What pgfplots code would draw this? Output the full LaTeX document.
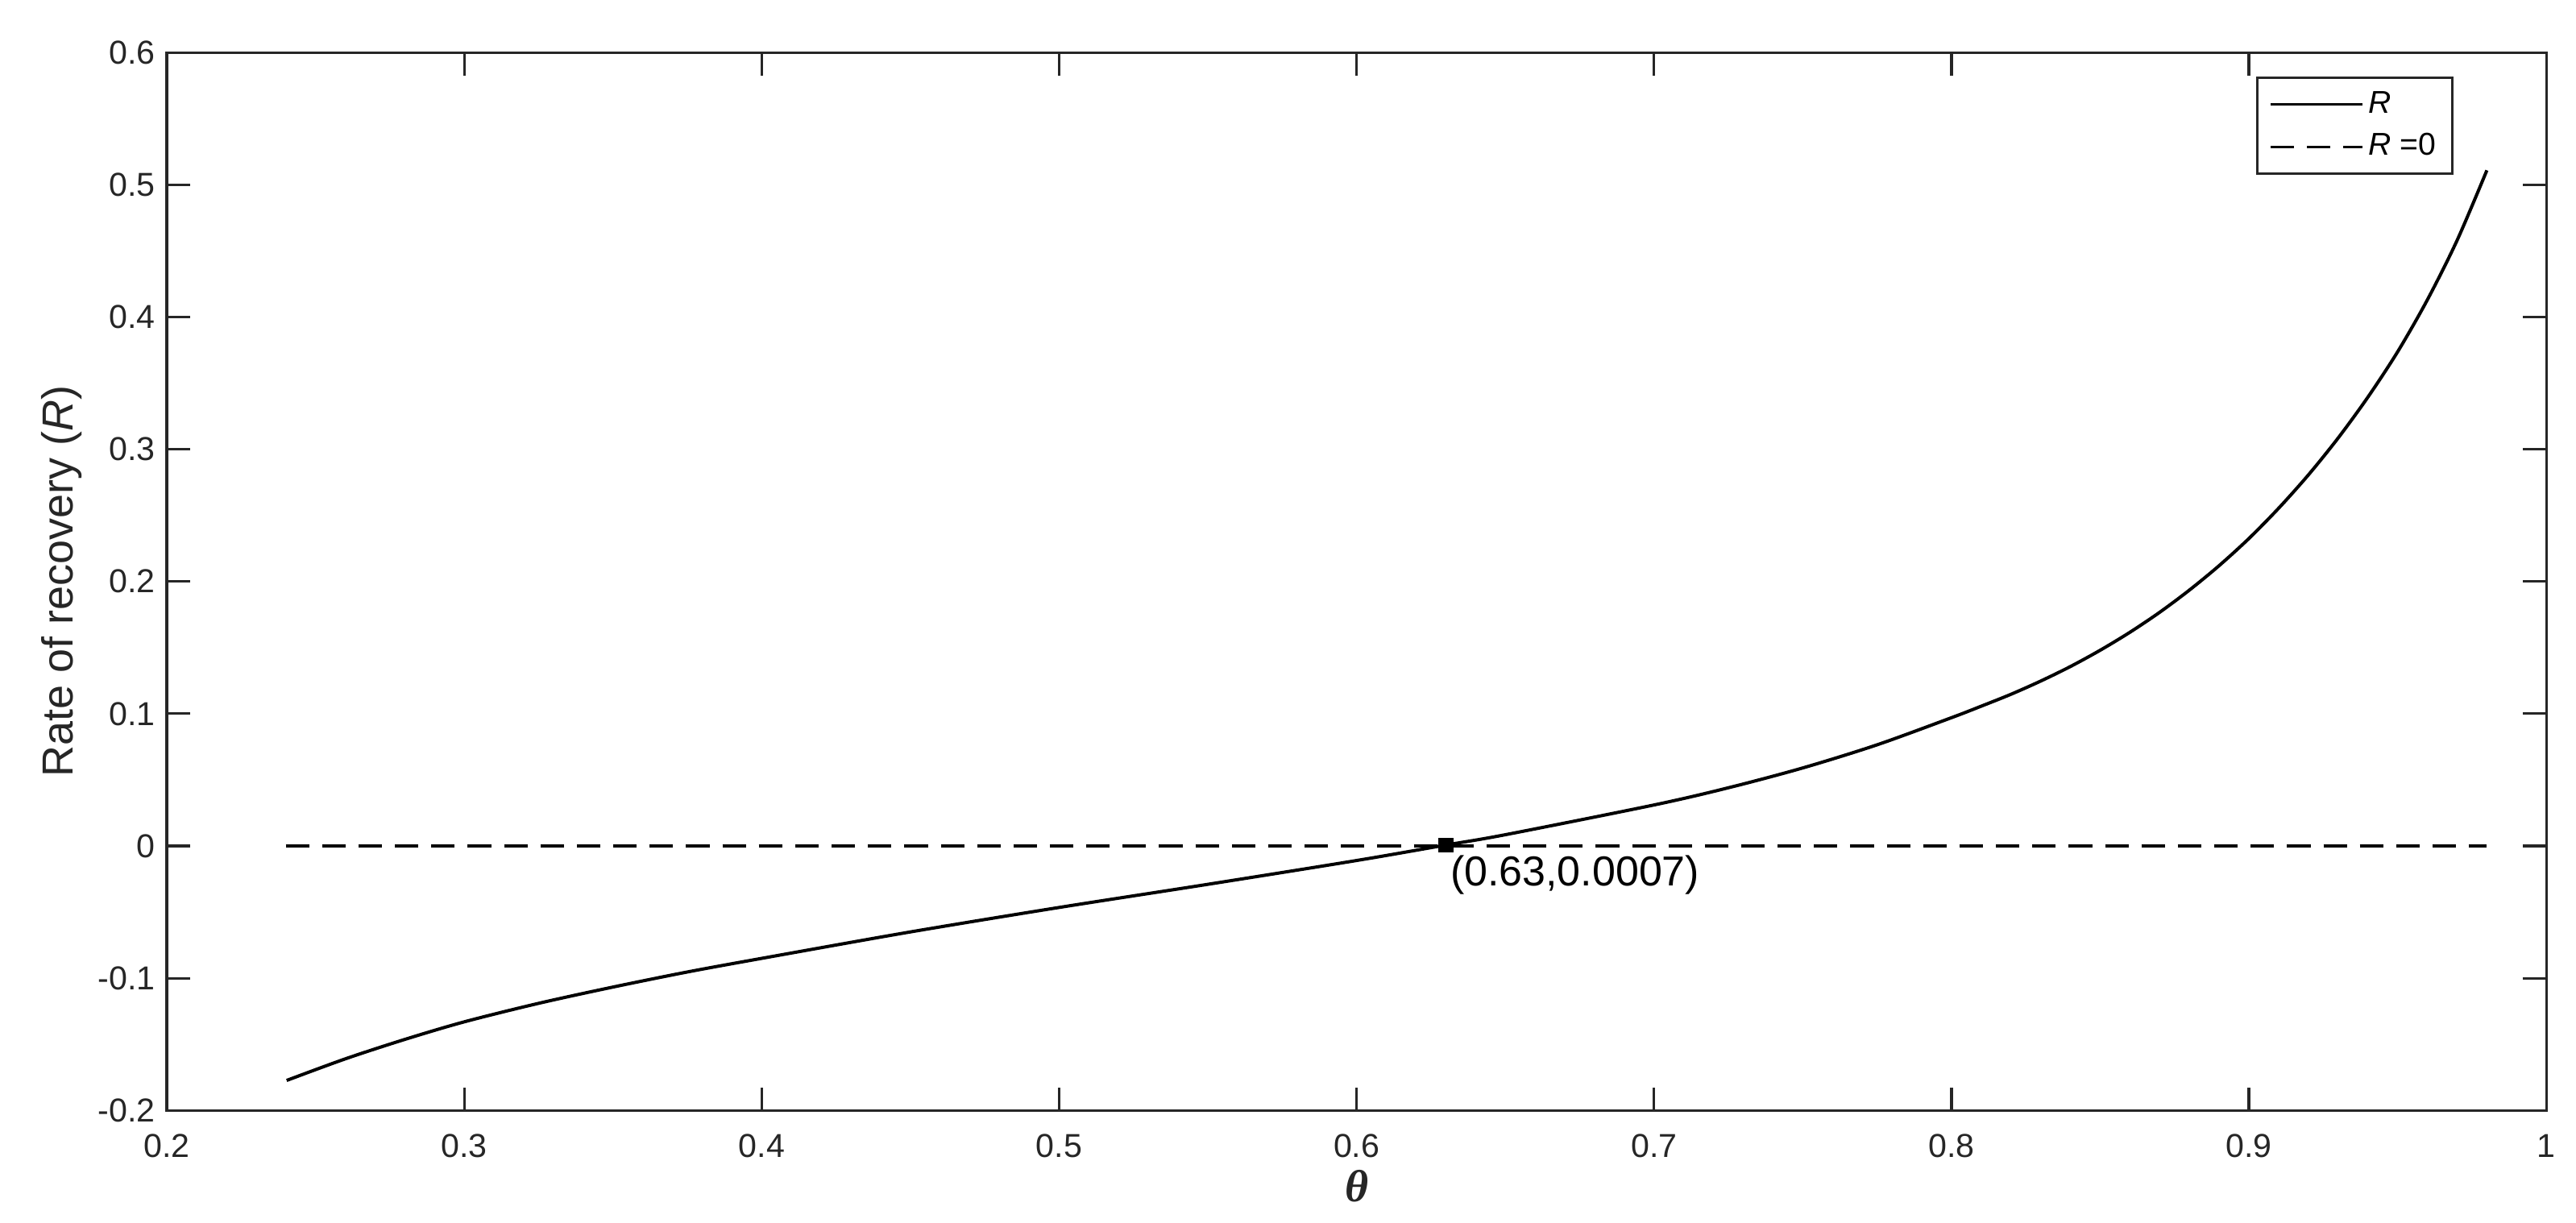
\documentclass[border=0pt]{standalone}
\usepackage{pgfplots}
\pgfplotsset{compat=1.18}
\usepackage{fontspec}
\setmainfont{Liberation Sans}
\newfontfamily\greekserif{Liberation Serif}
\definecolor{axgray}{RGB}{38,38,38}
\begin{document}
\begin{tikzpicture}
\path[use as bounding box] (-51.8pt,-34.8pt) rectangle (748.2pt,344.9pt);
\begin{axis}[
  at={(0,0)}, anchor=south west,
  scale only axis, width=739pt, height=328.6pt,
  xmin=0.2, xmax=1, ymin=-0.2, ymax=0.6,
  xtick={0.2,0.3,0.4,0.5,0.6,0.7,0.8,0.9,1},
  ytick={-0.2,-0.1,0,0.1,0.2,0.3,0.4,0.5,0.6},
  xticklabels={0.2,0.3,0.4,0.5,0.6,0.7,0.8,0.9,1},
  yticklabels={-0.2,-0.1,0,0.1,0.2,0.3,0.4,0.5,0.6},
  axis line style={axgray, line width=0.8pt},
  every tick/.style={axgray, line width=0.8pt},
  major tick length=7.2pt,
  tick align=inside,
  ticklabel style={font=\fontsize{10.3}{12}\selectfont, text=axgray},
  xticklabel style={yshift=-3.9pt},
  xlabel={{\greekserif\bfseries\itshape θ}},
  xlabel style={at={(axis description cs:0.5,-0.0715)}, anchor=center, font=\fontsize{14}{16}\selectfont, text=axgray},
  ylabel={Rate of recovery (\textit{R})},
  ylabel style={at={(axis description cs:-0.044,0.5)}, anchor=center, font=\fontsize{13.5}{16}\selectfont, text=axgray},
  legend style={at={(axis description cs:1,1)}, anchor=north east, xshift=-28.8pt, yshift=-7.5pt,
    draw=axgray, line width=0.8pt, fill=white, font=\fontsize{9.8}{11}\selectfont,
    inner xsep=3.6pt, inner ysep=2.6pt, row sep=1.9pt, nodes={inner sep=1.5pt}},
  legend cell align=left,
  legend image code/.code={\draw[#1, line width=0.8pt] (0pt,0pt) -- (28.5pt,0pt);},
]
\addplot[black, line width=1pt, smooth] coordinates {
(0.2403,-0.1773) (0.26,-0.1610) (0.28,-0.1463) (0.30,-0.1330) (0.325,-0.1190)
(0.35,-0.1067) (0.375,-0.0953) (0.40,-0.0850) (0.45,-0.0650) (0.50,-0.0465)
(0.55,-0.0290) (0.60,-0.0110) (0.63,0.0007) (0.65,0.0085) (0.70,0.0310)
(0.725,0.0440) (0.75,0.0590) (0.775,0.0765) (0.80,0.0970) (0.81,0.1057)
(0.82,0.1147) (0.83,0.1247) (0.84,0.1357) (0.85,0.1480) (0.86,0.1616)
(0.87,0.1767) (0.88,0.1935) (0.89,0.2120) (0.90,0.2325) (0.91,0.2554)
(0.92,0.2806) (0.93,0.3085) (0.94,0.3394) (0.95,0.3737) (0.96,0.4130)
(0.97,0.4580) (0.98,0.5109)
};
\addlegendentry{\textit{R}}
\addplot[black, line width=1pt, dash pattern=on 7.3pt off 4pt] coordinates {(0.24,0) (0.98,0)};
\addlegendentry{\textit{R} =0}
\addplot[only marks, mark=square*, mark size=2.1pt, black, forget plot] coordinates {(0.63,0.0007)};
\node[anchor=north west, inner sep=0pt, xshift=1.25pt, yshift=-3pt, font=\fontsize{13}{15}\selectfont] at (axis cs:0.63,0.0007) {(0.63,0.0007)};
\end{axis}
\end{tikzpicture}
\end{document}
